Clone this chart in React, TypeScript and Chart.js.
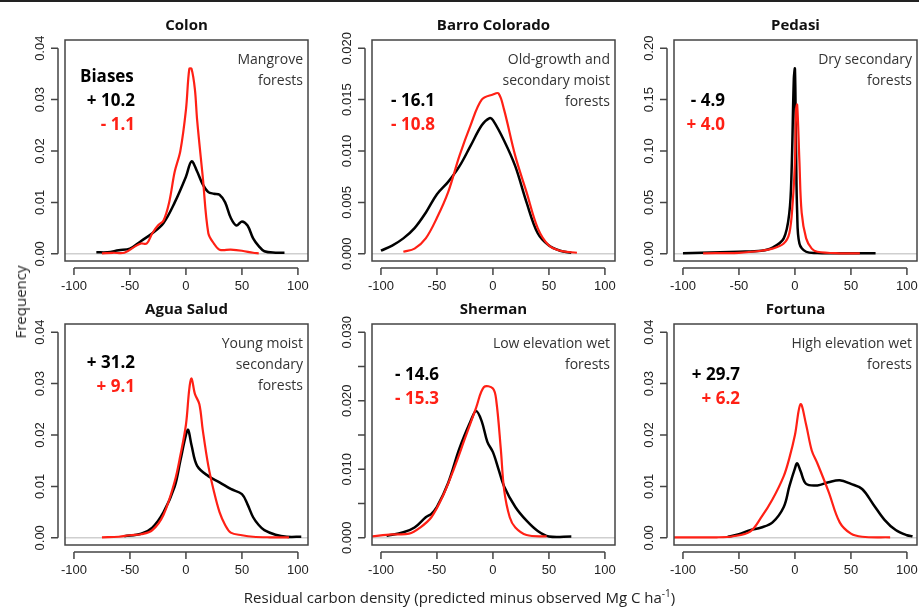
import React, { useEffect, useRef } from 'react';
import { Chart, registerables } from 'chart.js';

Chart.register(...registerables);

const RED = '#ff2015';
const xTicks = [-100, -50, 0, 50, 100];

// Colon
const colonBlackX = [-80, -70, -60, -50, -40, -30, -20, -10, 0, 5, 10, 15, 20, 25, 30, 35, 40, 45, 50, 55, 60, 65, 70, 80, 88];
const colonBlackY = [0.0003, 0.0003, 0.0007, 0.001, 0.0025, 0.004, 0.006, 0.01, 0.015, 0.018, 0.016, 0.0135, 0.012, 0.0117, 0.0115, 0.01, 0.007, 0.0055, 0.0063, 0.0055, 0.003, 0.0015, 0.0005, 0.0002, 0.0002];
const colonRedX = [-75, -65, -55, -45, -40, -35, -30, -25, -20, -15, -10, -5, 0, 3, 5, 8, 10, 15, 20, 25, 30, 40, 50, 60, 65];
const colonRedY = [0.0001, 0.0002, 0.0002, 0.0015, 0.002, 0.002, 0.004, 0.0055, 0.0065, 0.01, 0.016, 0.02, 0.028, 0.036, 0.036, 0.032, 0.026, 0.015, 0.004, 0.002, 0.0008, 0.0008, 0.0006, 0.0002, 0.0001];

// Barro Colorado
const barroBlackX = [-100, -90, -80, -70, -60, -50, -40, -30, -20, -10, -3, 0, 10, 20, 30, 40, 50, 60, 70];
const barroBlackY = [0.0003, 0.0008, 0.0015, 0.0025, 0.004, 0.0058, 0.007, 0.0085, 0.0105, 0.0125, 0.0132, 0.013, 0.011, 0.0085, 0.005, 0.002, 0.0008, 0.0003, 0.0001];
const barroRedX = [-80, -70, -60, -50, -40, -30, -20, -10, 0, 5, 10, 20, 30, 40, 50, 60, 75];
const barroRedY = [0.0002, 0.0005, 0.0015, 0.0035, 0.006, 0.0095, 0.0125, 0.015, 0.0155, 0.0156, 0.014, 0.0095, 0.006, 0.0025, 0.0008, 0.0003, 0.0001];

// Pedasi
const pedasiBlackX = [-100, -50, -30, -20, -10, -5, -3, -1, 0, 1, 2, 4, 10, 20, 50, 72];
const pedasiBlackY = [0.0005, 0.002, 0.003, 0.006, 0.015, 0.04, 0.08, 0.17, 0.18, 0.1, 0.04, 0.01, 0.002, 0.0008, 0.0005, 0.0005];
const pedasiRedX = [-82, -50, -30, -20, -10, -5, -2, 0, 1, 2, 4, 6, 10, 15, 20, 40, 58];
const pedasiRedY = [0.0005, 0.001, 0.003, 0.005, 0.01, 0.02, 0.05, 0.09, 0.14, 0.145, 0.09, 0.04, 0.015, 0.005, 0.002, 0.0005, 0.0005];

// Agua Salud
const aguaBlackX = [-55, -40, -30, -20, -10, -5, 0, 2, 5, 10, 20, 30, 40, 50, 55, 60, 65, 70, 80, 90, 103];
const aguaBlackY = [0.0003, 0.0008, 0.002, 0.005, 0.01, 0.015, 0.02, 0.021, 0.018, 0.014, 0.012, 0.0108, 0.0095, 0.0085, 0.0065, 0.004, 0.0025, 0.0015, 0.0006, 0.0002, 0.0002];
const aguaRedX = [-75, -60, -50, -40, -30, -20, -10, -5, 0, 3, 5, 8, 12, 15, 20, 25, 30, 35, 40, 50, 60, 75, 92];
const aguaRedY = [0.0001, 0.0002, 0.0005, 0.0007, 0.0015, 0.0045, 0.011, 0.016, 0.022, 0.029, 0.031, 0.028, 0.026, 0.021, 0.014, 0.009, 0.005, 0.0025, 0.001, 0.0005, 0.0002, 0.0001, 0.0001];

// Sherman
const shermanBlackX = [-95, -80, -70, -60, -55, -50, -40, -30, -20, -15, -10, -5, 0, 5, 10, 20, 30, 40, 50, 70];
const shermanBlackY = [0.0003, 0.0008, 0.0015, 0.003, 0.0035, 0.0045, 0.008, 0.013, 0.017, 0.0185, 0.017, 0.014, 0.0125, 0.01, 0.0075, 0.0045, 0.0025, 0.001, 0.0002, 0.0002];
const shermanRedX = [-108, -90, -75, -65, -55, -45, -35, -25, -15, -8, 0, 3, 7, 10, 15, 20, 30, 48];
const shermanRedY = [0.0002, 0.0005, 0.0006, 0.0015, 0.003, 0.006, 0.01, 0.0145, 0.019, 0.022, 0.0218, 0.02, 0.013, 0.007, 0.003, 0.0015, 0.0004, 0.0002];

// Fortuna
const fortunaBlackX = [-60, -50, -40, -30, -20, -10, -5, 0, 2, 5, 10, 20, 30, 40, 50, 60, 70, 80, 90, 100, 105];
const fortunaBlackY = [0.0002, 0.0007, 0.0015, 0.002, 0.003, 0.006, 0.01, 0.0135, 0.0145, 0.013, 0.0105, 0.0102, 0.0108, 0.0112, 0.0105, 0.0095, 0.0065, 0.0035, 0.0015, 0.0005, 0.0003];
const fortunaRedX = [-108, -70, -55, -40, -30, -20, -10, -5, 0, 5, 10, 15, 20, 30, 40, 50, 60, 85];
const fortunaRedY = [0.0001, 0.0001, 0.0003, 0.0012, 0.004, 0.0075, 0.012, 0.0155, 0.02, 0.026, 0.022, 0.017, 0.0145, 0.009, 0.003, 0.0008, 0.0002, 0.0001];

interface Panel {
  title: string;
  left: number;
  top: number;
  yMax: number;
  yStep: number;
  labelEvery: number;
  decimals: number;
  bx: number[]; by: number[]; rx: number[]; ry: number[];
  note: string[];
  biases: { text: string; color: string }[];
  biasX: number;
  biasY: number;
  showBiasesWord?: boolean;
}

const BOX_W = 243;
const BOX_H = 221;
const PAD_L = 62;
const PAD_T = 38;
const PAD_B = 45;

const panels: Panel[] = [
  { title: 'Colon', left: 65, top: 38, yMax: 0.04, yStep: 0.01, labelEvery: 1, decimals: 2,
    bx: colonBlackX, by: colonBlackY, rx: colonRedX, ry: colonRedY,
    note: ['Mangrove', 'forests'], biases: [{ text: '+ 10.2', color: '#000' }, { text: '- 1.1', color: RED }],
    biasX: 135, biasY: 104, showBiasesWord: true },
  { title: 'Barro Colorado', left: 372, top: 38, yMax: 0.02, yStep: 0.005, labelEvery: 1, decimals: 3,
    bx: barroBlackX, by: barroBlackY, rx: barroRedX, ry: barroRedY,
    note: ['Old-growth and', 'secondary moist', 'forests'], biases: [{ text: '- 16.1', color: '#000' }, { text: '- 10.8', color: RED }],
    biasX: 435, biasY: 104 },
  { title: 'Pedasi', left: 674, top: 38, yMax: 0.2, yStep: 0.05, labelEvery: 1, decimals: 2,
    bx: pedasiBlackX, by: pedasiBlackY, rx: pedasiRedX, ry: pedasiRedY,
    note: ['Dry secondary', 'forests'], biases: [{ text: '- 4.9', color: '#000' }, { text: '+ 4.0', color: RED }],
    biasX: 725, biasY: 104 },
  { title: 'Agua Salud', left: 65, top: 322, yMax: 0.04, yStep: 0.01, labelEvery: 1, decimals: 2,
    bx: aguaBlackX, by: aguaBlackY, rx: aguaRedX, ry: aguaRedY,
    note: ['Young moist', 'secondary', 'forests'], biases: [{ text: '+ 31.2', color: '#000' }, { text: '+ 9.1', color: RED }],
    biasX: 135, biasY: 366 },
  { title: 'Sherman', left: 372, top: 322, yMax: 0.03, yStep: 0.005, labelEvery: 2, decimals: 3,
    bx: shermanBlackX, by: shermanBlackY, rx: shermanRedX, ry: shermanRedY,
    note: ['Low elevation wet', 'forests'], biases: [{ text: '- 14.6', color: '#000' }, { text: '- 15.3', color: RED }],
    biasX: 439, biasY: 378 },
  { title: 'Fortuna', left: 674, top: 322, yMax: 0.04, yStep: 0.01, labelEvery: 1, decimals: 2,
    bx: fortunaBlackX, by: fortunaBlackY, rx: fortunaRedX, ry: fortunaRedY,
    note: ['High elevation wet', 'forests'], biases: [{ text: '+ 29.7', color: '#000' }, { text: '+ 6.2', color: RED }],
    biasX: 740, biasY: 378 },
];

const ANNOT_FONT = '"Open Sans", "Noto Sans", sans-serif';
const TICK_FONT = '"Liberation Sans", Arial, sans-serif';

function PanelChart({ p }: { p: Panel }) {
  const ref = useRef<HTMLCanvasElement>(null);
  useEffect(() => {
    if (!ref.current) return;
    const yTicks: number[] = [];
    for (let v = 0; v <= p.yMax + 1e-9; v += p.yStep) yTicks.push(v);
    const frame = {
      id: 'frame',
      beforeDatasetsDraw(chart: any) {
        const { ctx, chartArea: a, scales } = chart;
        const y0 = scales.y.getPixelForValue(0);
        ctx.save();
        ctx.strokeStyle = '#cfcfcf';
        ctx.lineWidth = 1.5;
        ctx.beginPath(); ctx.moveTo(a.left, y0); ctx.lineTo(a.right, y0); ctx.stroke();
        ctx.restore();
      },
      afterDraw(chart: any) {
        const { ctx, chartArea: a, scales } = chart;
        const xs = scales.x, ys = scales.y;
        ctx.save();
        ctx.strokeStyle = '#444';
        ctx.lineWidth = 1.5;
        ctx.strokeRect(a.left, a.top, a.right - a.left, a.bottom - a.top);
        // x axis
        const ax = a.bottom + 7;
        ctx.beginPath();
        ctx.moveTo(xs.getPixelForValue(xTicks[0]), ax);
        ctx.lineTo(xs.getPixelForValue(xTicks[xTicks.length - 1]), ax);
        xTicks.forEach(t => { const px = xs.getPixelForValue(t); ctx.moveTo(px, ax); ctx.lineTo(px, ax + 7); });
        // y axis
        const ay = a.left - 7;
        ctx.moveTo(ay, ys.getPixelForValue(0));
        ctx.lineTo(ay, ys.getPixelForValue(yTicks[yTicks.length - 1]));
        yTicks.forEach(t => { const py = ys.getPixelForValue(t); ctx.moveTo(ay, py); ctx.lineTo(ay - 7, py); });
        ctx.stroke();
        ctx.fillStyle = '#222';
        ctx.font = `13px ${TICK_FONT}`;
        ctx.textAlign = 'center';
        ctx.textBaseline = 'top';
        xTicks.forEach(t => ctx.fillText(String(t), xs.getPixelForValue(t), ax + 12));
        yTicks.forEach((t, i) => {
          if (i % p.labelEvery !== 0) return;
          ctx.save();
          ctx.translate(ay - 11, ys.getPixelForValue(t));
          ctx.rotate(-Math.PI / 2);
          ctx.textBaseline = 'bottom';
          ctx.fillText(t.toFixed(p.decimals), 0, 0);
          ctx.restore();
        });
        // title
        ctx.font = `bold 15px ${ANNOT_FONT}`;
        ctx.textBaseline = 'alphabetic';
        ctx.fillStyle = '#111';
        ctx.fillText(p.title, (a.left + a.right) / 2, a.top - 10);
        // note
        ctx.font = `14px ${ANNOT_FONT}`;
        ctx.textAlign = 'right';
        ctx.fillStyle = '#333';
        p.note.forEach((s, i) => ctx.fillText(s, a.right - 5, a.top + 24 + i * 21));
        // biases (page coords -> canvas coords)
        const cx = (x: number) => x - p.left + a.left;
        const cy = (y: number) => y - p.top + a.top;
        ctx.font = `bold 17px ${ANNOT_FONT}`;
        if (p.showBiasesWord) {
          ctx.textAlign = 'left';
          ctx.fillStyle = '#000';
          ctx.fillText('Biases', cx(80), cy(p.biasY - 24));
        }
        ctx.textAlign = 'right';
        p.biases.forEach((b, i) => {
          ctx.fillStyle = b.color;
          ctx.fillText(b.text, cx(p.biasX), cy(p.biasY + i * 24));
        });
        ctx.restore();
      },
    };
    const chart = new Chart(ref.current, {
      type: 'line',
      data: {
        datasets: [
          { data: p.rx.map((x, i) => ({ x, y: p.ry[i] })), borderColor: RED, borderWidth: 2.2, pointRadius: 0, tension: 0.35 },
          { data: p.bx.map((x, i) => ({ x, y: p.by[i] })), borderColor: '#000', borderWidth: 2.5, pointRadius: 0, tension: 0.35 },
        ],
      },
      options: {
        animation: false,
        responsive: false,
        layout: { padding: { left: PAD_L, top: PAD_T, right: 2, bottom: PAD_B } },
        plugins: { legend: { display: false }, tooltip: { enabled: false } },
        scales: {
          x: { type: 'linear', min: -108, max: 109, display: false },
          y: { min: -0.035 * p.yMax, max: 1.04 * p.yMax, display: false },
        },
      },
      plugins: [frame],
    });
    return () => chart.destroy();
  }, [p]);
  return (
    <canvas
      ref={ref}
      width={BOX_W + PAD_L + 2}
      height={BOX_H + PAD_T + PAD_B}
      style={{ position: 'absolute', left: p.left - PAD_L, top: p.top - PAD_T, width: BOX_W + PAD_L + 2, height: BOX_H + PAD_T + PAD_B }}
    />
  );
}

export default function App() {
  return (
    <div style={{ position: 'fixed', left: 0, top: 0, width: 919, height: 607, background: '#fff', borderTop: '2px solid #222', boxSizing: 'border-box', overflow: 'hidden' }}>
      {panels.map(p => <PanelChart key={p.title} p={p} />)}
      <div style={{ position: 'absolute', left: 8, top: 300, transform: 'translate(-50%, -50%) rotate(-90deg)', marginLeft: 12, fontFamily: ANNOT_FONT, fontSize: 15, color: '#222' }}>Frequency</div>
      <div style={{ position: 'absolute', left: 0, width: 919, top: 584, textAlign: 'center', fontFamily: ANNOT_FONT, fontSize: 15, color: '#222' }}>
        Residual carbon density (predicted minus observed Mg C ha<sup style={{ fontSize: 10 }}>-1</sup>)
      </div>
    </div>
  );
}
